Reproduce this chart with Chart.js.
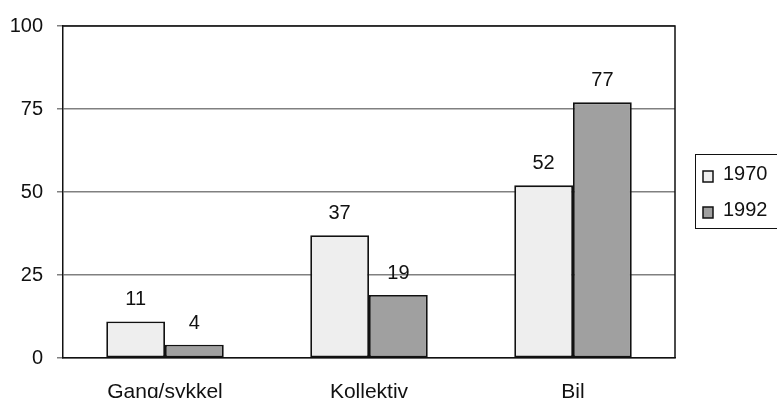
<!DOCTYPE html>
<html>
<head>
<meta charset="utf-8">
<script src="https://cdn.jsdelivr.net/npm/chart.js@4/dist/chart.umd.min.js"></script>
<style>
  html, body { margin: 0; padding: 0; background: #fff; }
  #wrap { width: 777px; height: 398px; }
</style>
</head>
<body>
<div id="wrap"><canvas id="chart"></canvas></div>
<script>
const categories = ['Gang/sykkel', 'Kollektiv', 'Bil']
const years = ['1970', '1992']
const values1970 = [11, 37, 52]
const values1992 = [4, 19, 77]
const yTicks = [0, 25, 50, 75, 100]

const FONT = "'Liberation Sans', Arial, sans-serif"

// numbers over each bar
const valueLabels = {
  id: 'valueLabels',
  afterDatasetsDraw(chart) {
    const ctx = chart.ctx
    ctx.save()
    ctx.font = '20px ' + FONT
    ctx.fillStyle = '#111'
    ctx.textAlign = 'center'
    ctx.textBaseline = 'alphabetic'
    chart.data.datasets.forEach((ds, i) => {
      chart.getDatasetMeta(i).data.forEach((bar, j) => {
        ctx.fillText(ds.data[j], bar.x, bar.y - 16)
      })
    })
    ctx.restore()
  }
}

// frame round the plot area plus the boxed legend on the right
const frameAndLegend = {
  id: 'frameAndLegend',
  afterDraw(chart) {
    const ctx = chart.ctx
    const a = chart.chartArea
    ctx.save()
    ctx.strokeStyle = '#111'
    ctx.lineWidth = 1.5
    ctx.beginPath()
    ctx.moveTo(a.left, a.top)
    ctx.lineTo(a.right, a.top)
    ctx.lineTo(a.right, a.bottom)
    ctx.stroke()

    ctx.lineWidth = 1
    ctx.strokeRect(695.5, 154.5, 90, 74)
    ctx.font = '20px ' + FONT
    ctx.textBaseline = 'alphabetic'
    ctx.textAlign = 'left'
    chart.data.datasets.forEach((ds, i) => {
      const y = 171 + i * 36
      ctx.fillStyle = ds.backgroundColor
      ctx.fillRect(703, y, 10, 11)
      ctx.strokeStyle = '#111'
      ctx.lineWidth = 1.5
      ctx.strokeRect(703, y, 10, 11)
      ctx.fillStyle = '#111'
      ctx.fillText(ds.label, 723, y + 9)
    })
    ctx.restore()
  }
}

const data = {
  labels: categories,
  datasets: [{
    label: years[0],
    data: values1970,
    backgroundColor: '#eeeeee',
    borderColor: '#111',
    borderWidth: 1.8,
    borderSkipped: false
  }, {
    label: years[1],
    data: values1992,
    backgroundColor: '#a0a0a0',
    borderColor: '#111',
    borderWidth: 1.8,
    borderSkipped: false
  }]
}

const config = {
  type: 'bar',
  data: data,
  options: {
    responsive: true,
    maintainAspectRatio: false,
    animation: false,
    categoryPercentage: 0.576,
    barPercentage: 1,
    layout: { padding: { left: 0, top: 23, right: 102, bottom: 0 } },
    plugins: {
      legend: { display: false },
      tooltip: { enabled: false }
    },
    scales: {
      x: {
        grid: { display: false },
        border: { color: '#111', width: 1.5 },
        ticks: { color: '#111', font: { size: 21, family: FONT }, padding: 14 },
        afterFit: (s) => { s.height = 40 }
      },
      y: {
        min: 0,
        max: 100,
        afterBuildTicks: (s) => { s.ticks = yTicks.map(v => ({ value: v })) },
        grid: { color: '#808080', lineWidth: 1.5, tickLength: 6 },
        border: { color: '#111', width: 1.5 },
        ticks: { color: '#111', font: { size: 20, family: FONT }, padding: 14 },
        afterFit: (s) => { s.width = 63 }
      }
    }
  },
  plugins: [valueLabels, frameAndLegend]
}

const mychart = new Chart(document.getElementById('chart').getContext('2d'), config)
</script>
</body>
</html>
